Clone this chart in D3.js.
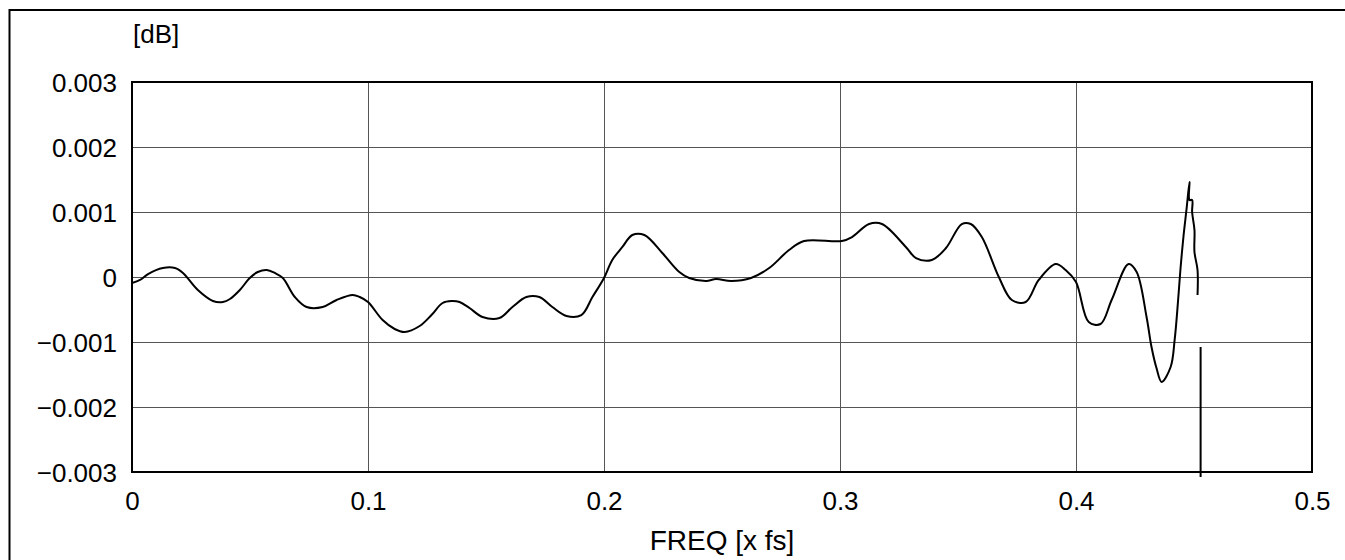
<!DOCTYPE html>
<html>
<head>
<meta charset="utf-8">
<script src="https://cdn.jsdelivr.net/npm/d3@7"></script>
<style>
  html, body { margin: 0; padding: 0; background: #fff; }
  svg { display: block; }
  text { font-family: "Liberation Sans", Arial, sans-serif; fill: #000; }
</style>
</head>
<body>
<svg id="chart" width="1345" height="560"></svg>
<script>
// ---- data ----
const freq = [
  0, 0.0034, 0.0068, 0.0131, 0.0182, 0.0216, 0.0279, 0.0343, 0.0385, 0.0415,
  0.0457, 0.0499, 0.0533, 0.0571, 0.0605, 0.0639, 0.0690, 0.0740, 0.0808, 0.0867,
  0.0935, 0.0965, 0.1, 0.1062, 0.1113, 0.1155, 0.1219, 0.1269, 0.1316, 0.1354,
  0.1388, 0.1430, 0.1485, 0.1557, 0.1612, 0.1671, 0.1726, 0.1781, 0.1841, 0.1904,
  0.1951, 0.2, 0.2035, 0.2078, 0.2120, 0.2171, 0.2247, 0.2319, 0.2361, 0.2433,
  0.2475, 0.2539, 0.2623, 0.2700, 0.2784, 0.2848, 0.3008, 0.3051, 0.3123, 0.3178,
  0.3279, 0.3322, 0.3389, 0.3449, 0.3516, 0.3554, 0.3601, 0.3673, 0.3728, 0.3787,
  0.3842, 0.3914, 0.3956, 0.4, 0.4054, 0.4104, 0.4151, 0.4223, 0.4257, 0.4299,
  0.4320, 0.4341, 0.4363, 0.4401, 0.4418, 0.4434, 0.4443, 0.4456, 0.4468, 0.4481,
  0.4481, 0.4492, 0.4492, 0.4502, 0.4502, 0.4515, 0.4515, 0.4521, 0.4528, 0.4528
];
const gainDb = [
  -0.000092, -0.000046, 0.000046, 0.000138, 0.000138, 0.000062, -0.0002, -0.000369, -0.000385, -0.000338,
  -0.0002, -0.000015, 0.000077, 0.000108, 0.000062, -0.000015, -0.000308, -0.000462, -0.000462, -0.000354,
  -0.000277, -0.000308, -0.000385, -0.000662, -0.0008, -0.000846, -0.000754, -0.000585, -0.0004, -0.000369,
  -0.000385, -0.000477, -0.000615, -0.000631, -0.000462, -0.000308, -0.000308, -0.000462, -0.0006, -0.000585,
  -0.000308, -0.000015, 0.000262, 0.000462, 0.000646, 0.000646, 0.000369, 0.000077, -0.000015, -0.000062,
  -0.000031, -0.000062, -0.000015, 0.000138, 0.000415, 0.000554, 0.000554, 0.000615, 0.000815, 0.000815,
  0.000462, 0.000292, 0.000262, 0.000446, 0.000815, 0.000815, 0.000615, 0, -0.000354, -0.000385,
  -0.000046, 0.0002, 0.000108, -0.000077, -0.000692, -0.000723, -0.000354, 0.0002, 0.000077, -0.000615,
  -0.001077, -0.0014, -0.001615, -0.001385, -0.000969, -0.000292, 0.000138, 0.000646, 0.001031, 0.001462,
  0.001185, 0.001185, 0.001, 0.000723, 0.000385, 0.000108, -0.000277, null, -0.001077, -0.003077
];
const xTicks = [0, 0.1, 0.2, 0.3, 0.4, 0.5];
const xTickLabels = ["0", "0.1", "0.2", "0.3", "0.4", "0.5"];
const yTicks = [0.003, 0.002, 0.001, 0, -0.001, -0.002, -0.003];
const yTickLabels = ["0.003", "0.002", "0.001", "0", "\u22120.001", "\u22120.002", "\u22120.003"];
const yUnit = "[dB]";
const xTitle = "FREQ [x fs]";

// ---- layout ----
const svg = d3.select("#chart");
const L = 132, R = 1312, T = 82, B = 472;

const x = d3.scaleLinear().domain([0, 0.5]).range([L, R]);
const y = d3.scaleLinear().domain([-0.003, 0.003]).range([B, T]);

// outer frame
svg.append("rect")
  .attr("x", 9.5).attr("y", 10).attr("width", 1345).attr("height", 600)
  .attr("fill", "none").attr("stroke", "#000").attr("stroke-width", 2);

// gridlines
const gx = svg.append("g")
  .attr("transform", `translate(0,${B})`)
  .call(d3.axisBottom(x).tickValues(xTicks).tickSize(-(B - T)).tickFormat(""));
gx.select(".domain").remove();
gx.selectAll("line").attr("stroke", "#555").attr("stroke-width", 1);

const gy = svg.append("g")
  .attr("transform", `translate(${L},0)`)
  .call(d3.axisLeft(y).tickValues(yTicks).tickSize(-(R - L)).tickFormat(""));
gy.select(".domain").remove();
gy.selectAll("line").attr("stroke", "#555").attr("stroke-width", 1);

// tick labels
const xl = svg.append("g")
  .attr("transform", `translate(0,${B})`)
  .call(d3.axisBottom(x).tickValues(xTicks).tickSize(0).tickPadding(0)
    .tickFormat((d, i) => xTickLabels[i]));
xl.select(".domain").remove();
xl.selectAll("text").attr("font-size", 26).attr("dy", null).attr("y", 38)
  .attr("font-family", "Liberation Sans, Arial, sans-serif");

const yl = svg.append("g")
  .attr("transform", `translate(${L},0)`)
  .call(d3.axisLeft(y).tickValues(yTicks).tickSize(0).tickPadding(0)
    .tickFormat((d, i) => yTickLabels[i]));
yl.select(".domain").remove();
yl.selectAll("text").attr("font-size", 26).attr("x", -15).attr("dy", "0.35em")
  .attr("font-family", "Liberation Sans, Arial, sans-serif");

// plot frame
svg.append("rect")
  .attr("x", L).attr("y", T).attr("width", R - L).attr("height", B - T)
  .attr("fill", "none").attr("stroke", "#000").attr("stroke-width", 2);

// titles
svg.append("text").attr("x", 133).attr("y", 43).attr("font-size", 26).text(yUnit);
svg.append("text").attr("x", (L + R) / 2).attr("y", 550).attr("text-anchor", "middle")
  .attr("font-size", 28).text(xTitle);

// curve
const pts = freq.map((f, i) => ({ f, v: gainDb[i] }));
const line = d3.line()
  .defined(d => d.v !== null)
  .curve(d3.curveCatmullRom.alpha(0.5))
  .x(d => x(d.f))
  .y(d => y(d.v));
svg.append("path")
  .datum(pts)
  .attr("d", line)
  .attr("fill", "none")
  .attr("stroke", "#000")
  .attr("stroke-width", 2)
  .attr("stroke-linejoin", "round");
</script>
</body>
</html>
